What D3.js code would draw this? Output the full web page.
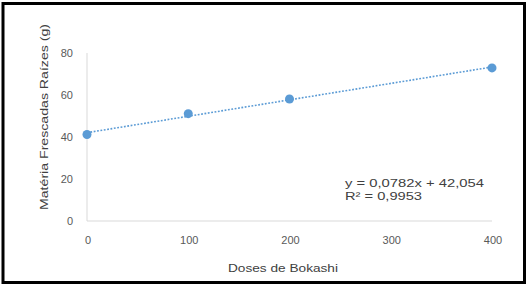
<!DOCTYPE html>
<html>
<head>
<meta charset="utf-8">
<script src="https://cdn.jsdelivr.net/npm/d3@7"></script>
<style>
  body { margin: 0; background: #fff; }
  text { font-family: "Liberation Sans", Arial, sans-serif; }
</style>
</head>
<body>
<div id="chart"></div>
<script>
// dados
const doses = [0, 100, 200, 400];
const massaRaizes = [41.2, 51.1, 58.1, 72.9];
const xTicks = [0, 100, 200, 300, 400];
const yTicks = [0, 20, 40, 60, 80];
const slope = 0.0782, intercept = 42.054;
const eqLines = ["y = 0,0782x + 42,054", "R² = 0,9953"];

const W = 528, H = 286;
const svg = d3.select("#chart").append("svg")
  .attr("width", W).attr("height", H);

// moldura
svg.append("rect")
  .attr("x", 3).attr("y", 3.5)
  .attr("width", 521.5).attr("height", 279)
  .attr("fill", "#fff").attr("stroke", "#000").attr("stroke-width", 3);

const x = d3.scaleLinear().domain([0, 400]).range([87, 492]);
const y = d3.scaleLinear().domain([0, 80]).range([221, 53]);

// eixos (só a linha)
svg.append("line")
  .attr("x1", x(0)).attr("x2", x(0))
  .attr("y1", y(80)).attr("y2", y(0))
  .attr("stroke", "#d9d9d9").attr("stroke-width", 1);
svg.append("line")
  .attr("x1", x(0)).attr("x2", x(400))
  .attr("y1", y(0)).attr("y2", y(0))
  .attr("stroke", "#d9d9d9").attr("stroke-width", 1);

svg.selectAll(".ytick").data(yTicks).enter().append("text")
  .attr("x", 73).attr("y", (d) => y(d) + 4)
  .attr("text-anchor", "end")
  .attr("font-size", 11).attr("fill", "#595959")
  .text((d) => d);

svg.selectAll(".xtick").data(xTicks).enter().append("text")
  .attr("x", (d) => x(d) + 1).attr("y", 244)
  .attr("text-anchor", "middle")
  .attr("font-size", 11).attr("fill", "#595959")
  .text((d) => d);

// títulos
svg.append("text")
  .attr("x", 283).attr("y", 272)
  .attr("text-anchor", "middle")
  .attr("font-size", 11.5).attr("fill", "#404040")
  .attr("textLength", 110).attr("lengthAdjust", "spacingAndGlyphs")
  .text("Doses de Bokashi");

svg.append("text")
  .attr("transform", "translate(48,117) rotate(-90)")
  .attr("text-anchor", "middle")
  .attr("font-size", 11.5).attr("fill", "#404040")
  .attr("textLength", 186).attr("lengthAdjust", "spacingAndGlyphs")
  .text("Matéria Frescadas Raízes (g)");

// linha de tendência
svg.append("line")
  .attr("x1", x(0)).attr("y1", y(intercept))
  .attr("x2", x(400)).attr("y2", y(intercept + slope * 400))
  .attr("stroke", "#5b9bd5").attr("stroke-width", 1.6)
  .attr("stroke-dasharray", "1.8,1.6");

svg.selectAll(".pt").data(doses).enter().append("circle")
  .attr("cx", (d) => x(d))
  .attr("cy", (d, i) => y(massaRaizes[i]))
  .attr("r", 4.5)
  .attr("fill", "#5b9bd5");

// equação
svg.selectAll(".eq").data(eqLines).enter().append("text")
  .attr("x", 345).attr("y", (d, i) => 187 + i * 12.5)
  .attr("font-size", 11.5).attr("fill", "#404040")
  .attr("textLength", (d, i) => (i === 0 ? 139 : 77))
  .attr("lengthAdjust", "spacingAndGlyphs")
  .text((d) => d);
</script>
</body>
</html>
